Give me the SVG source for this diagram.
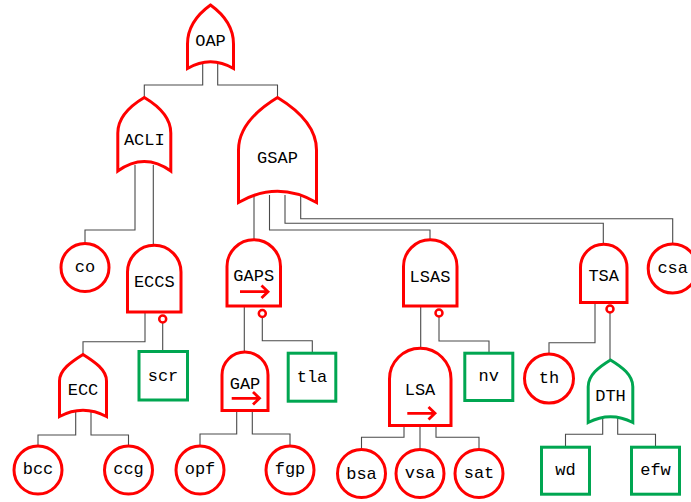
<svg xmlns="http://www.w3.org/2000/svg" width="691" height="502" viewBox="0 0 691 502">
<style>
.c{fill:none;stroke:#4a4a4a;stroke-width:1.1}
.g{fill:#fff;stroke:#ff0000;stroke-width:3;stroke-linejoin:miter}
.gg{fill:#fff;stroke:#00a651;stroke-width:3}
.n{fill:#fff;stroke:#ff0000;stroke-width:2.5}
.a{fill:none;stroke:#ff0000;stroke-width:2.8}
text{font-family:"Liberation Mono","DejaVu Sans Mono",monospace;font-size:17px;text-anchor:middle;dominant-baseline:central;fill:#000}
</style>
<rect width="691" height="502" fill="#fff"/>
<g id="connectors">
<path class="c" d="M202.7,64 V85 H144.3 V98 M217.7,64 V85 H277.5 V98"/>
<path class="c" d="M135,165 V230 H85 V243 M153.3,165 V246"/>
<path class="c" d="M254,195 V240 M269.5,195 V230 H430 V240 M285,195 V223.3 H603.3 V245 M300.7,195 V218.7 H672.7 V244"/>
<path class="c" d="M145,311 V341.7 H83 V356 M162.7,322 V352"/>
<path class="c" d="M75.7,412 V435 H38 V446 M91,412 V435 H128.5 V446"/>
<path class="c" d="M244.3,306 V353 M262.3,317 V340.7 H312.3 V354"/>
<path class="c" d="M236.7,410 V434 H200 V446 M252.3,410 V434 H290 V446"/>
<path class="c" d="M420.7,306 V349 M439,316 V341 H489 V354"/>
<path class="c" d="M404,424 V437.3 H361.5 V450 M420,424 V450 M436,424 V437.3 H479 V450"/>
<path class="c" d="M595,302 V342.7 H549 V355 M610,312 V361"/>
<path class="c" d="M602.7,415 V434.3 H565.5 V448 M617.7,415 V434.3 H655.5 V448"/>
</g>
<g id="OAP">
<path class="g" d="M210.5,5 C198,14 187.5,27 187.5,44 L187.5,68.5 Q210.5,55 233.5,68.5 L233.5,44 C233.5,27 223,14 210.5,5 Z"/>
<text x="210.5" y="41.7">OAP</text>
</g>
<g id="ACLI">
<path class="g" d="M144.3,97.5 C130,106 117.8,118 117.8,133 L117.8,171 Q144.3,152 170.8,171 L170.8,133 C170.8,118 158.6,106 144.3,97.5 Z"/>
<text x="144.3" y="140">ACLI</text>
</g>
<g id="GSAP">
<path class="g" d="M277.5,97.5 C257,110 238.5,127 238.5,150 L238.5,202.5 Q277.5,180 316.5,202.5 L316.5,150 C316.5,127 298,110 277.5,97.5 Z"/>
<text x="277.5" y="158.5">GSAP</text>
</g>
<g id="co">
<circle class="g" cx="85" cy="267.5" r="24"/>
<text x="85" y="267">co</text>
</g>
<g id="ECCS">
<path class="g" d="M127.5,312 L127.5,272 A26.75,26.75 0 0 1 181,272 L181,312 Z"/>
<circle class="n" cx="162.7" cy="319" r="3.5"/>
<text x="154.3" y="282.7">ECCS</text>
</g>
<g id="ECC">
<path class="g" d="M83,354.5 C71,362 59.5,370 59.5,381 L59.5,416.5 Q83,404 106.5,416.5 L106.5,381 C106.5,370 95,362 83,354.5 Z"/>
<text x="83" y="390.7">ECC</text>
</g>
<g id="scr">
<rect class="gg" x="139" y="351.5" width="48.5" height="48.5"/>
<text x="163" y="376">scr</text>
</g>
<g id="bcc">
<circle class="g" cx="38" cy="470" r="24"/>
<text x="38" y="469.5">bcc</text>
</g>
<g id="ccg">
<circle class="g" cx="128.5" cy="470" r="24"/>
<text x="128.5" y="469.5">ccg</text>
</g>
<g id="GAPS">
<path class="g" d="M227,306 L227,266.5 A26.75,26.75 0 0 1 280.5,266.5 L280.5,306 Z"/>
<circle class="n" cx="262.3" cy="313.5" r="3.5"/>
<text x="253.7" y="276.7">GAPS</text>
<path class="a" d="M240,291.7 H268 M261.5,285.5 L268,291.7 L261.5,298"/>
</g>
<g id="GAP">
<path class="g" d="M222,410.5 L222,375 A23,23 0 0 1 268,375 L268,410.5 Z"/>
<text x="245" y="384">GAP</text>
<path class="a" d="M231.7,398.3 H259.5 M253,392 L259.5,398.3 L253,404.6"/>
</g>
<g id="tla">
<rect class="gg" x="288.2" y="353.2" width="47.6" height="48"/>
<text x="312" y="377">tla</text>
</g>
<g id="opf">
<circle class="g" cx="200" cy="470" r="24"/>
<text x="200" y="469">opf</text>
</g>
<g id="fgp">
<circle class="g" cx="290" cy="470" r="24"/>
<text x="290" y="469">fgp</text>
</g>
<g id="LSAS">
<path class="g" d="M403.5,306 L403.5,266.5 A26.75,26.75 0 0 1 457,266.5 L457,306 Z"/>
<circle class="n" cx="439" cy="313" r="3.5"/>
<text x="430" y="277.3">LSAS</text>
</g>
<g id="LSA">
<path class="g" d="M389.5,425.5 L389.5,379 A30.75,30.75 0 0 1 451,379 L451,425.5 Z"/>
<text x="420" y="390.7">LSA</text>
<path class="a" d="M407.3,413.3 H435 M428.5,407 L435,413.3 L428.5,419.6"/>
</g>
<g id="nv">
<rect class="gg" x="464.8" y="353.2" width="48" height="47.3"/>
<text x="488.8" y="376.5">nv</text>
</g>
<g id="bsa">
<circle class="g" cx="361.5" cy="473.5" r="24"/>
<text x="361.5" y="474">bsa</text>
</g>
<g id="vsa">
<circle class="g" cx="420" cy="473.5" r="24"/>
<text x="420" y="473">vsa</text>
</g>
<g id="sat">
<circle class="g" cx="479" cy="473.5" r="24"/>
<text x="479" y="473.5">sat</text>
</g>
<g id="TSA">
<path class="g" d="M580.5,302.5 L580.5,267.5 A23.25,23.25 0 0 1 627,267.5 L627,302.5 Z"/>
<circle class="n" cx="610" cy="309" r="3.5"/>
<text x="603.7" y="276.7">TSA</text>
</g>
<g id="csa">
<circle class="g" cx="672.7" cy="268.5" r="24.5"/>
<text x="672.7" y="268">csa</text>
</g>
<g id="th">
<circle class="g" cx="549" cy="378.5" r="24.5"/>
<text x="549" y="378.5">th</text>
</g>
<g id="DTH">
<path class="gg" d="M610.5,360 C599,367 588.2,375 588.2,386.7 L588.2,422.5 Q610.5,411 632.8,422.5 L632.8,386.7 C632.8,375 622,367 610.5,360 Z"/>
<text x="610.5" y="396.7">DTH</text>
</g>
<g id="wd">
<rect class="gg" x="541.5" y="447.2" width="48" height="47"/>
<text x="565.5" y="470.7">wd</text>
</g>
<g id="efw">
<rect class="gg" x="631.5" y="447.2" width="48" height="47"/>
<text x="655.5" y="470.7">efw</text>
</g>
</svg>
